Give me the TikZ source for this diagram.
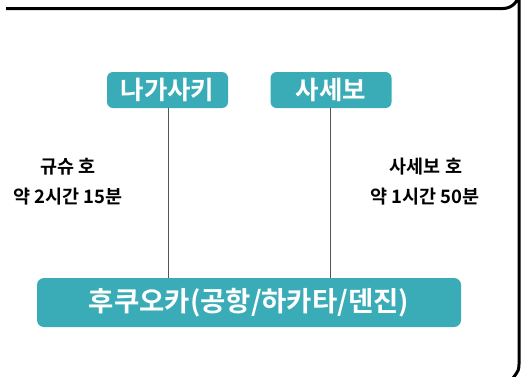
\documentclass[tikz,border=0pt]{standalone}
\usepackage{fontspec}
\setmainfont{Noto Sans CJK KR}
\newfontfamily\krb{Noto Sans CJK KR Bold}
\definecolor{teal1}{RGB}{58,172,183}
\definecolor{conn}{RGB}{85,85,85}
\begin{document}
\begin{tikzpicture}[x=1pt,y=-1pt,
  city/.style={fill=teal1,rounded corners=6pt,text=white,font=\krb\fontsize{25.5}{30}\selectfont,minimum width=121pt,minimum height=36pt,inner sep=0pt},
  hub/.style={fill=teal1,rounded corners=7pt,text=white,font=\krb\fontsize{27.5}{32}\selectfont,minimum width=424pt,minimum height=49pt,inner sep=0pt},
  lbl/.style={font=\krb\fontsize{18.5}{22}\selectfont,text=black,inner sep=0pt},
  conline/.style={draw=conn,line width=1pt}]
\useasboundingbox (0,0) rectangle (521,376);
\draw[line width=3pt] (6,8.5) -- (503,8.5) arc[start angle=90,end angle=0,radius=16] -- (519,362) .. controls (519,370) .. (513,378);
\node[city] (nag) at (167.5,90) {나가사키};
\node[city] (sas) at (331,90) {사세보};
\node[hub] (fuk) at (249,302.5) {후쿠오카(공항/하카타/덴진)};
\draw[conline] (nag.south -| 168,0) -- (168,0 |- fuk.north);
\draw[conline] (sas.south -| 330,0) -- (330,0 |- fuk.north);
\node[lbl] (l1) at (68,167) {규슈 호};
\node[lbl] (l2) at (68,197) {약 2시간 15분};
\node[lbl] (r1) at (426,167) {사세보 호};
\node[lbl] (r2) at (425,197) {약 1시간 50분};
\end{tikzpicture}
\end{document}
